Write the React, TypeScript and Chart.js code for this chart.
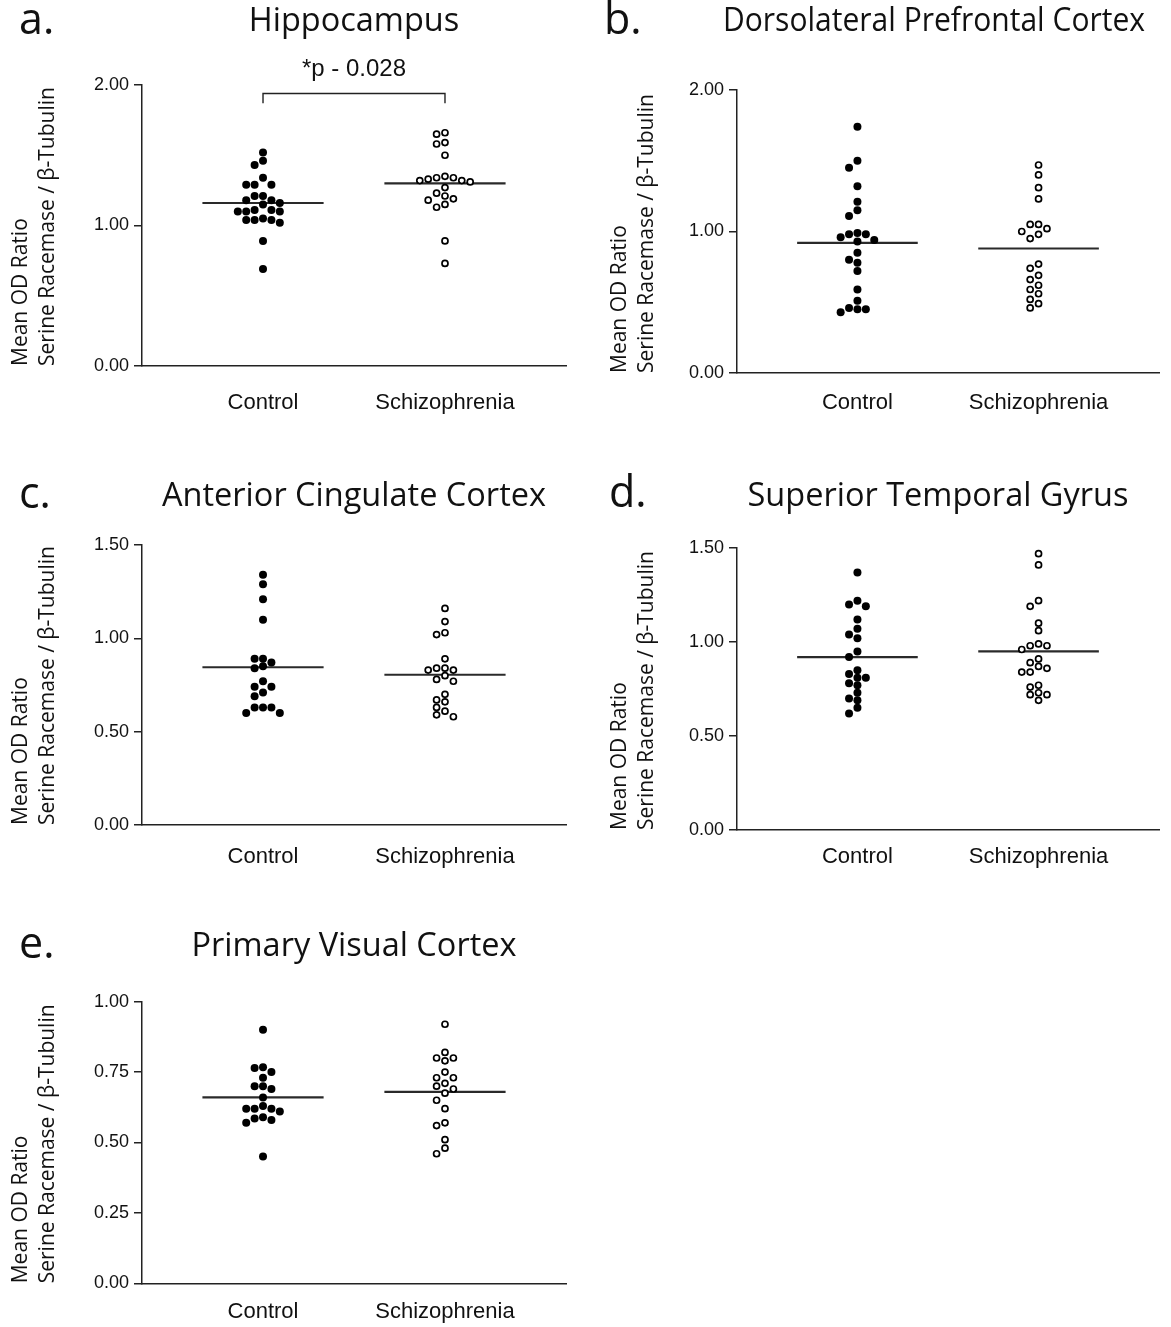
import React, { useEffect, useRef } from 'react';
import { Chart, registerables } from 'chart.js';

Chart.register(...registerables);

// ---------- data ----------
const groupLabels = ['Control', 'Schizophrenia'];
const yAxisTitle = ['Mean OD Ratio', 'Serine Racemase / β-Tubulin'];

// a. Hippocampus
const hippocampusControl = [1.52, 1.46, 1.43, 1.34, 1.29, 1.29, 1.29, 1.21, 1.21, 1.18, 1.18, 1.16, 1.15, 1.11, 1.10, 1.10, 1.10, 1.11, 1.05, 1.04, 1.02, 1.04, 1.04, 0.89, 0.69];
const hippocampusSchizophrenia = [1.66, 1.65, 1.59, 1.58, 1.50, 1.35, 1.34, 1.32, 1.31, 1.32, 1.33, 1.34, 1.27, 1.23, 1.21, 1.18, 1.19, 1.13, 1.15, 0.89, 0.73];
const hippocampusMeans = [1.16, 1.30];

// b. Dorsolateral Prefrontal Cortex
const dlpfcControl = [1.74, 1.50, 1.45, 1.32, 1.21, 1.15, 1.11, 0.98, 0.99, 0.98, 0.96, 0.94, 0.93, 0.85, 0.78, 0.80, 0.72, 0.59, 0.51, 0.45, 0.43, 0.45, 0.46];
const dlpfcSchizophrenia = [1.47, 1.40, 1.31, 1.23, 1.05, 1.05, 1.02, 1.00, 0.98, 0.95, 0.77, 0.74, 0.69, 0.66, 0.62, 0.59, 0.56, 0.52, 0.49, 0.46];
const dlpfcMeans = [0.92, 0.88];

// c. Anterior Cingulate Cortex
const accControl = [1.34, 1.29, 1.21, 1.10, 0.89, 0.89, 0.87, 0.85, 0.84, 0.77, 0.74, 0.74, 0.71, 0.69, 0.63, 0.63, 0.60, 0.60, 0.63];
const accSchizophrenia = [1.16, 1.09, 1.02, 1.03, 0.89, 0.84, 0.83, 0.83, 0.84, 0.80, 0.78, 0.77, 0.70, 0.67, 0.66, 0.63, 0.61, 0.59, 0.58];
const accMeans = [0.845, 0.805];

// d. Superior Temporal Gyrus
const stgControl = [1.37, 1.20, 1.19, 1.22, 1.12, 1.07, 1.04, 1.02, 0.95, 0.92, 0.85, 0.83, 0.81, 0.81, 0.77, 0.78, 0.73, 0.70, 0.69, 0.65, 0.62];
const stgSchizophrenia = [1.47, 1.41, 1.22, 1.19, 1.10, 1.06, 0.98, 0.98, 0.99, 0.96, 0.91, 0.89, 0.86, 0.84, 0.84, 0.87, 0.77, 0.76, 0.72, 0.72, 0.73, 0.69];
const stgMeans = [0.92, 0.95];

// e. Primary Visual Cortex
const v1Control = [0.90, 0.765, 0.767, 0.75, 0.73, 0.69, 0.70, 0.70, 0.66, 0.63, 0.62, 0.61, 0.62, 0.62, 0.59, 0.58, 0.57, 0.585, 0.45];
const v1Schizophrenia = [0.92, 0.82, 0.80, 0.79, 0.80, 0.75, 0.73, 0.73, 0.71, 0.70, 0.69, 0.675, 0.65, 0.62, 0.57, 0.56, 0.51, 0.48, 0.46];
const v1Means = [0.66, 0.68];

// tick values
const ticksWhole = [0, 1, 2];
const ticksHalf = [0, 0.5, 1, 1.5];
const ticksQuarter = [0, 0.25, 0.5, 0.75, 1];

// significance annotation (panel a)
const hippocampusPLabel = '*p - 0.028';

// ---------- styling / layout ----------
const TITLE_FONT = "'Open Sans', 'Noto Sans', sans-serif";
const AXIS_FONT = "'Liberation Sans', Arial, sans-serif";
const INK = '#111';
const AXIS_INK = '#222';
const X_MIN = 0.335;
const X_MAX = 2.665;
const MEAN_HALF = 0.333;
const COL_STEP_PX = 8.4;
const GAP_PX = 7.2;
const TITLE_SIZE = 32.5;
const YTITLE_SIZE = 21;
const YTITLE_LH = 1.3;
const XLABEL_SIZE = 22;
const XLABEL_LH = 1.2;

type Box = { left: number; top: number; width: number; height: number };
type Area = { left: number; right: number; top: number; bottom: number };
interface Significance { label: string; barValue: number; legValue: number; textValue: number }
interface PanelSpec {
  letter: string;
  title: string;
  control: number[];
  schizophrenia: number[];
  means: number[];
  yTicks: number[];
  box: Box;
  area: Area;
  titleY: number;
  titleDx: number;
  letterX: number;
  letterY: number;
  yTitleX: number;
  labelY: number;
  xScaleH: number;
  significance?: Significance;
}

const panels: PanelSpec[] = [
  {
    letter: 'a.', title: 'Hippocampus', control: hippocampusControl, schizophrenia: hippocampusSchizophrenia,
    means: hippocampusMeans, yTicks: ticksWhole,
    box: { left: 0, top: 0, width: 590, height: 440 }, area: { left: 142, right: 566, top: 85, bottom: 366 },
    titleY: 22, titleDx: 0, letterX: 19, letterY: 22, yTitleX: 21, labelY: 403, xScaleH: 60,
    significance: { label: hippocampusPLabel, barValue: 1.94, legValue: 1.87, textValue: 2.11 },
  },
  {
    letter: 'b.', title: 'Dorsolateral Prefrontal Cortex', control: dlpfcControl, schizophrenia: dlpfcSchizophrenia,
    means: dlpfcMeans, yTicks: ticksWhole,
    box: { left: 590, top: 0, width: 581, height: 440 }, area: { left: 737, right: 1159, top: 90, bottom: 373 },
    titleY: 22, titleDx: -14, letterX: 604, letterY: 22, yTitleX: 620, labelY: 403, xScaleH: 55,
  },
  {
    letter: 'c.', title: 'Anterior Cingulate Cortex', control: accControl, schizophrenia: accSchizophrenia,
    means: accMeans, yTicks: ticksHalf,
    box: { left: 0, top: 450, width: 590, height: 440 }, area: { left: 142, right: 566, top: 545, bottom: 825 },
    titleY: 497, titleDx: 0, letterX: 19, letterY: 496, yTitleX: 21, labelY: 857, xScaleH: 55,
  },
  {
    letter: 'd.', title: 'Superior Temporal Gyrus', control: stgControl, schizophrenia: stgSchizophrenia,
    means: stgMeans, yTicks: ticksHalf,
    box: { left: 590, top: 450, width: 581, height: 440 }, area: { left: 737, right: 1159, top: 548, bottom: 830 },
    titleY: 497, titleDx: -10, letterX: 609, letterY: 495, yTitleX: 620, labelY: 857, xScaleH: 52,
  },
  {
    letter: 'e.', title: 'Primary Visual Cortex', control: v1Control, schizophrenia: v1Schizophrenia,
    means: v1Means, yTicks: ticksQuarter,
    box: { left: 0, top: 905, width: 590, height: 422 }, area: { left: 142, right: 566, top: 1001.7, bottom: 1283.3 },
    titleY: 947, titleDx: 0, letterX: 19, letterY: 946, yTitleX: 21, labelY: 1312, xScaleH: 43,
  },
];

// simple deterministic beeswarm: grid columns, nearest-to-centre free column
function swarmColumns(values: number[], pxPerUnit: number, gapPx: number): number[] {
  const order = values.map((_, i) => i).sort((a, b) => values[b] - values[a]);
  const placed: { col: number; y: number }[] = [];
  const cols = new Array(values.length).fill(0);
  for (const i of order) {
    const y = values[i] * pxPerUnit;
    for (let k = 0; k < 60; k++) {
      const c = k === 0 ? 0 : k % 2 === 1 ? -Math.ceil(k / 2) : Math.ceil(k / 2);
      if (placed.every((p) => p.col !== c || Math.abs(p.y - y) >= gapPx)) {
        cols[i] = c;
        placed.push({ col: c, y });
        break;
      }
    }
  }
  return cols;
}

function buildConfig(p: PanelSpec): any {
  const plotW = p.area.right - p.area.left;
  const plotH = p.area.bottom - p.area.top;
  const yMax = p.yTicks[p.yTicks.length - 1];
  const xPx = plotW / (X_MAX - X_MIN);
  const yPx = plotH / yMax;
  const step = COL_STEP_PX / xPx;

  const toPoints = (vals: number[], g: number) => {
    const cols = swarmColumns(vals, yPx, GAP_PX);
    return vals.map((v, i) => ({ x: g + cols[i] * step, y: v }));
  };

  const titleLH = TITLE_SIZE * 1.2;
  const yTitleLH = YTITLE_SIZE * YTITLE_LH;
  const xLabelLH = XLABEL_SIZE * XLABEL_LH;

  const datasets: any[] = [
    {
      type: 'scatter', label: groupLabels[0], data: toPoints(p.control, 1),
      pointRadius: 4.0, pointBackgroundColor: '#000', pointBorderWidth: 0, pointBorderColor: '#000',
    },
    {
      type: 'scatter', label: groupLabels[1], data: toPoints(p.schizophrenia, 2),
      pointRadius: 3.0, pointBackgroundColor: '#fff', pointBorderWidth: 1.7, pointBorderColor: '#000',
    },
    {
      type: 'line', label: 'mean-control',
      data: [{ x: 1 - MEAN_HALF, y: p.means[0] }, { x: 1 + MEAN_HALF, y: p.means[0] }],
      borderColor: '#2a2a2a', borderWidth: 2.2, pointRadius: 0, fill: false,
    },
    {
      type: 'line', label: 'mean-schizophrenia',
      data: [{ x: 2 - MEAN_HALF, y: p.means[1] }, { x: 2 + MEAN_HALF, y: p.means[1] }],
      borderColor: '#2a2a2a', borderWidth: 2.2, pointRadius: 0, fill: false,
    },
  ];
  if (p.significance) {
    const s = p.significance;
    datasets.push({
      type: 'line', label: 'bracket',
      data: [{ x: 1, y: s.legValue }, { x: 1, y: s.barValue }, { x: 2, y: s.barValue }, { x: 2, y: s.legValue }],
      borderColor: AXIS_INK, borderWidth: 1.4, pointRadius: 0, fill: false, tension: 0, clip: false,
    });
  }

  const decor = {
    id: 'panelDecor',
    afterLayout(chart: any) {
      if (p.titleDx && chart.titleBlock) {
        chart.titleBlock.left += p.titleDx;
        chart.titleBlock.right += p.titleDx;
      }
    },
    afterDraw(chart: any) {
      const ctx = chart.ctx;
      ctx.save();
      ctx.fillStyle = INK;
      ctx.textBaseline = 'middle';
      ctx.textAlign = 'left';
      ctx.font = `43px ${TITLE_FONT}`;
      ctx.fillText(p.letter, p.letterX - p.box.left, p.letterY - p.box.top);
      if (p.significance) {
        const xs = chart.scales.x;
        const ys = chart.scales.y;
        ctx.textAlign = 'center';
        ctx.font = `24px ${AXIS_FONT}`;
        ctx.fillText(p.significance.label, xs.getPixelForValue(1.5), ys.getPixelForValue(p.significance.textValue));
      }
      ctx.restore();
    },
  };

  return {
    type: 'scatter',
    data: { datasets },
    plugins: [decor],
    options: {
      responsive: false,
      animation: false,
      events: [],
      layout: {
        padding: {
          left: 0,
          top: 0,
          right: p.box.left + p.box.width - p.area.right,
          bottom: p.box.top + p.box.height - p.area.bottom - p.xScaleH,
        },
      },
      plugins: {
        legend: { display: false },
        tooltip: { enabled: false },
        title: {
          display: true,
          text: p.title,
          fullSize: false,
          color: INK,
          font: { family: TITLE_FONT, size: TITLE_SIZE, weight: 'normal', lineHeight: 1.2 },
          padding: {
            top: p.titleY - p.box.top - titleLH / 2,
            bottom: p.area.top - p.titleY - titleLH / 2,
          },
        },
      },
      scales: {
        x: {
          type: 'linear',
          min: X_MIN,
          max: X_MAX,
          afterBuildTicks: (s: any) => { s.ticks = groupLabels.map((_, i) => ({ value: i + 1 })); },
          afterFit: (s: any) => { s.height = p.xScaleH; },
          grid: { display: false, drawTicks: false },
          border: { display: true, color: AXIS_INK, width: 1.5 },
          ticks: {
            autoSkip: false,
            maxRotation: 0,
            padding: p.labelY - p.area.bottom - xLabelLH / 2,
            color: INK,
            font: { family: AXIS_FONT, size: XLABEL_SIZE, lineHeight: XLABEL_LH },
            callback: (v: any) => groupLabels[Math.round(Number(v)) - 1] ?? '',
          },
        },
        y: {
          type: 'linear',
          min: 0,
          max: yMax,
          afterBuildTicks: (s: any) => { s.ticks = p.yTicks.map((v) => ({ value: v })); },
          afterFit: (s: any) => { s.width = p.area.left - p.box.left; },
          grid: { display: true, drawOnChartArea: false, drawTicks: true, tickLength: 8, color: AXIS_INK, lineWidth: 1.5 },
          border: { display: true, color: AXIS_INK, width: 1.5 },
          ticks: {
            padding: 5,
            color: INK,
            font: { family: AXIS_FONT, size: 18 },
            callback: (v: any) => Number(v).toFixed(2),
          },
          title: {
            display: true,
            text: yAxisTitle,
            align: 'start',
            color: INK,
            font: { family: TITLE_FONT, size: YTITLE_SIZE, lineHeight: YTITLE_LH },
            padding: { top: p.yTitleX - p.box.left - yTitleLH / 2, bottom: 0 },
          },
        },
      },
    },
  };
}

function Panel({ spec }: { spec: PanelSpec }) {
  const ref = useRef<HTMLCanvasElement | null>(null);
  useEffect(() => {
    if (!ref.current) return;
    const chart = new Chart(ref.current, buildConfig(spec));
    return () => chart.destroy();
  }, [spec]);
  return (
    <canvas
      ref={ref}
      width={spec.box.width}
      height={spec.box.height}
      style={{
        position: 'absolute',
        left: spec.box.left,
        top: spec.box.top,
        width: spec.box.width,
        height: spec.box.height,
      }}
    />
  );
}

export default function App() {
  return (
    <div style={{ position: 'absolute', left: 0, top: 0, width: 1171, height: 1327, background: '#fff', overflow: 'hidden' }}>
      {panels.map((p) => (
        <Panel key={p.letter} spec={p} />
      ))}
    </div>
  );
}
